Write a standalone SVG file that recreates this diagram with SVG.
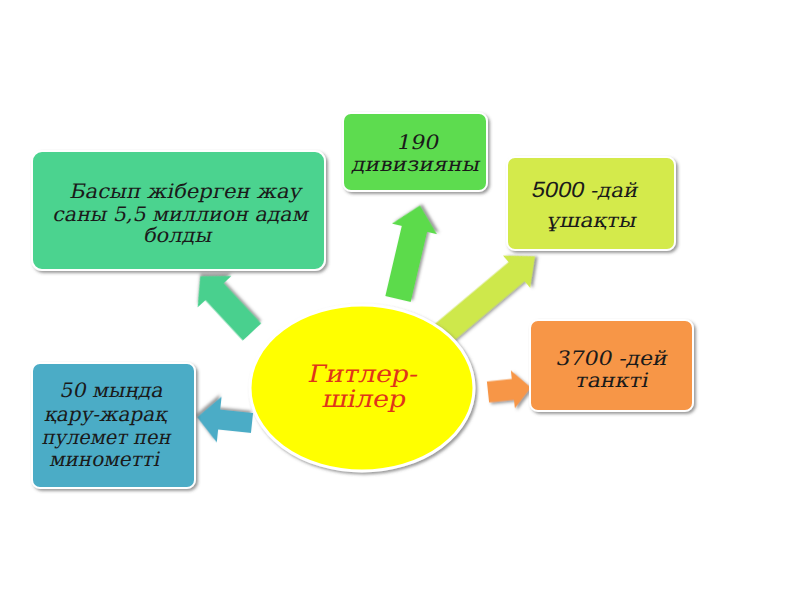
<svg xmlns="http://www.w3.org/2000/svg" width="800" height="600" viewBox="0 0 800 600">
  <defs>
    <filter id="sh" x="-10%" y="-10%" width="125%" height="125%">
      <feDropShadow dx="2" dy="2" stdDeviation="1.5" flood-color="#555" flood-opacity="0.6"/>
    </filter>
  </defs>
  <style>
    .box { stroke:#ffffff; stroke-width:2; filter:url(#sh); }
    .arr { filter:url(#sh); }
    .t { font-family:"DejaVu Serif","Liberation Serif",serif; font-size:20px; fill:#1a1a1a; text-anchor:middle; }
    .s { font-family:"Liberation Sans",Arial,sans-serif; font-size:22px; }
    .r { font-family:"DejaVu Serif","Liberation Serif",serif; font-size:24px; fill:#E0341A; text-anchor:middle; }
  </style>
  <rect width="800" height="600" fill="#ffffff"/>

  <g id="connectors">
    <polygon class="arr" fill="#48D08E" transform="translate(252,332) rotate(-132.9)" points="0,-12.5 55,-12.5 55,-23 76,0 55,23 55,12.5 0,12.5"/>
    <polygon class="arr" fill="#5CDB4C" transform="translate(398,299) rotate(-76.8)" points="0,-13 72,-13 72,-23 96,0 72,23 72,13 0,13"/>
    <polygon class="arr" fill="#CEE84C" transform="translate(440,336) rotate(-40)" points="0,-12.5 100,-12.5 100,-21 124,0 100,21 100,12.5 0,12.5"/>
    <polygon class="arr" fill="#F79646" transform="translate(488,392) rotate(-6)" points="0,-10.5 25,-10.5 25,-19 43,0 25,19 25,10.5 0,10.5"/>
    <polygon class="arr" fill="#4BACC6" transform="translate(252,423) rotate(186)" points="0,-10 33,-10 33,-23 55,0 33,23 33,10 0,10"/>
  </g>

  <g id="center">
    <ellipse cx="362" cy="388" rx="112" ry="83" fill="#FFFF00" stroke="#ffffff" stroke-width="3" filter="url(#sh)"/>
    <text class="r" transform="translate(362,382) skewX(-12) scale(1.12,1)">Гитлер-</text>
    <text class="r" transform="translate(363,407) skewX(-12) scale(1.12,1)">шілер</text>
  </g>

  <g id="box1">
    <rect class="box" x="32" y="151" width="293" height="119" rx="10" fill="#4BD38F"/>
    <text class="t" transform="translate(185,198) skewX(-12) scale(1.06,1)">Басып жіберген жау</text>
    <text class="t" transform="translate(180,221) skewX(-12) scale(1.03,1)">саны 5,5 миллион адам</text>
    <text class="t" transform="translate(177,242) skewX(-12) scale(1.05,1)">болды</text>
  </g>

  <g id="box2">
    <rect class="box" x="343" y="113" width="144" height="78" rx="8" fill="#5DDC4F"/>
    <text class="t" transform="translate(417,149) skewX(-12) scale(1.1,1)">190</text>
    <text class="t" transform="translate(415,171) skewX(-12) scale(1.1,1)">дивизияны</text>
  </g>

  <g id="box3">
    <rect class="box" x="507" y="157" width="168" height="93" rx="8" fill="#D4EA4C"/>
    <text class="t" transform="translate(584,197) skewX(-12) scale(1.07,1)"><tspan class="s">5000</tspan> -дай</text>
    <text class="t" transform="translate(591,227) skewX(-12) scale(1.1,1)">ұшақты</text>
  </g>

  <g id="box4">
    <rect class="box" x="530" y="320" width="163" height="91" rx="8" fill="#F79646"/>
    <text class="t" transform="translate(611,365) skewX(-12) scale(1.1,1)">3700 -дей</text>
    <text class="t" transform="translate(611,387) skewX(-12) scale(1.1,1)">танкті</text>
  </g>

  <g id="box5">
    <rect class="box" x="32" y="363" width="163" height="125" rx="8" fill="#4BACC6"/>
    <text class="t" transform="translate(111,397) skewX(-12) scale(1.03,1)">50 мыңда</text>
    <text class="t" transform="translate(105,421) skewX(-12) scale(1.0,1)">қару-жарақ</text>
    <text class="t" transform="translate(106,444) skewX(-12) scale(0.97,1)">пулемет пен</text>
    <text class="t" transform="translate(104,466) skewX(-12) scale(1.0,1)">минометті</text>
  </g>
</svg>
